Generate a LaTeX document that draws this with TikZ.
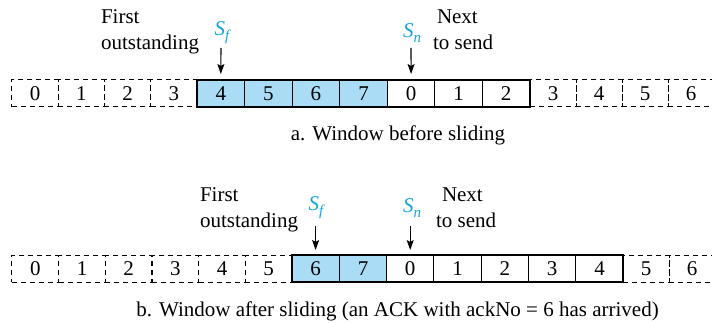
\documentclass[tikz,border=0pt]{standalone}
\usepackage{fontspec}
\setmainfont{Liberation Serif}
\newfontfamily\tnr{Liberation Serif}
\usetikzlibrary{arrows.meta}
\definecolor{seqcyan}{RGB}{20,165,225}
\definecolor{winfill}{RGB}{170,221,245}
\begin{document}
\begin{tikzpicture}[x=1pt,y=-1pt,
  every node/.style={font=\tnr\fontsize{21}{26}\selectfont, inner sep=0pt, outer sep=0pt},
  dcell/.style={draw, dashed, dash pattern=on 5pt off 4pt, line width=1pt, minimum height=27pt, anchor=center},
  wcell/.style={draw, line width=1pt, fill=winfill, minimum height=27pt, anchor=center},
  ocell/.style={draw, line width=1pt, fill=white, minimum height=27pt, anchor=center},
  winframe/.style={draw, line width=2.2pt},
  ptr/.style={-{Stealth[length=10pt,width=7pt,inset=2pt]}, line width=1.1pt},
  seqlbl/.style={text=seqcyan, font=\tnr\fontsize{21}{26}\selectfont\itshape},
  txt/.style={anchor=base west},
  captxt/.style={anchor=base}]
\useasboundingbox (0,0) rectangle (712,323);
% ---------- top row (before sliding) ----------
\foreach \n/\x in {0/35.1,1/81.4,2/127.6,3/173.9}
  \node[dcell, minimum width=46.25pt] (a\n) at (\x,93.5) {\n};
\foreach \n/\x in {3/553,4/599,5/645,6/691}
  \node[dcell, minimum width=46pt] (ar\n) at (\x,93.5) {\n};
\foreach \n/\x in {4/220.8,5/268.4,6/315.9,7/363.5}
  \node[wcell, minimum width=47.57pt] (w\n) at (\x,93.5) {\n};
\foreach \n/\x in {0/411.1,1/458.7,2/506.2}
  \node[ocell, minimum width=47.57pt] (wo\n) at (\x,93.5) {\n};
\draw[winframe] (w4.north west) rectangle (wo2.south east);
% pointers
\node[seqlbl] (sfa) at (222,33) {S\raisebox{-5pt}{\fontsize{15}{15}\selectfont f}};
\node[seqlbl] (sna) at (412,33) {S\raisebox{-5pt}{\fontsize{15}{15}\selectfont n}};
\coordinate (sfat) at (221,48);
\coordinate (snat) at (411,48);
\draw[ptr] (sfat) -- ([yshift=6pt]w4.north);
\draw[ptr] (snat) -- ([yshift=6pt]wo0.north);
\node[txt] (fa1) at (101,24) {First};
\node[txt] (fa2) at (101,50) {outstanding};
\node[txt] (na1) at (437,24) {Next};
\node[txt] (na2) at (433,50) {to send};
\node[captxt] (capa) at (398,141) {a. Window before sliding};
% ---------- bottom row (after sliding) ----------
\foreach \n/\x in {0/35.3,1/82,2/128.7,3/175.3,4/222,5/268.7}
  \node[dcell, minimum width=46.67pt] (b\n) at (\x,268.5) {\n};
\foreach \n/\x in {5/646,6/692}
  \node[dcell, minimum width=46pt] (br\n) at (\x,268.5) {\n};
\foreach \n/\x in {6/315.6,7/363}
  \node[wcell, minimum width=47.3pt] (v\n) at (\x,268.5) {\n};
\foreach \n/\x in {0/410.2,1/457.5,2/504.8,3/552.2,4/599.5}
  \node[ocell, minimum width=47.3pt] (vo\n) at (\x,268.5) {\n};
\draw[winframe] (v6.north west) rectangle (vo4.south east);
\node[seqlbl] (sfb) at (316,208) {S\raisebox{-5pt}{\fontsize{15}{15}\selectfont f}};
\node[seqlbl] (snb) at (412,208) {S\raisebox{-5pt}{\fontsize{15}{15}\selectfont n}};
\coordinate (sfbt) at (315.6,226);
\coordinate (snbt) at (410.2,226);
\draw[ptr] (sfbt) -- ([yshift=5pt]v6.north);
\draw[ptr] (snbt) -- ([yshift=5pt]vo0.north);
\node[txt] (fb1) at (200,202) {First};
\node[txt] (fb2) at (200,227) {outstanding};
\node[txt] (nb1) at (442,202) {Next};
\node[txt] (nb2) at (436,227) {to send};
\node[captxt] (capb) at (397.5,316) {b. Window after sliding (an ACK with ackNo = 6 has arrived)};
\end{tikzpicture}
\end{document}
